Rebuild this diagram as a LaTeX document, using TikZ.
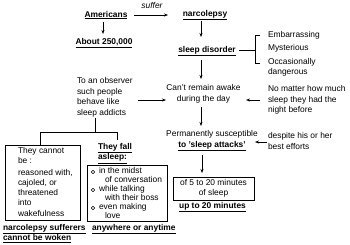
\documentclass[tikz,border=0pt]{standalone}
\usepackage{fontspec}
\setmainfont{Liberation Sans}
\usetikzlibrary{arrows.meta}
\begin{document}
\begin{tikzpicture}[x=1pt,y=-1pt,
  every node/.style={inner sep=0pt,outer sep=0pt,font=\fontsize{8.4}{10.6}\selectfont},
  bu/.style={font=\fontsize{8.4}{10.6}\selectfont\bfseries},
  arr/.style={-{Stealth[length=4pt,width=3pt]},line width=0.6pt},
  ln/.style={line width=0.6pt},
  boxl/.style={draw,line width=0.6pt}]
\useasboundingbox (0,0) rectangle (350,244);
% top row
\node[bu] (americans) at (106,15) {\underline{Americans}};
\node[font=\fontsize{8.4}{10.6}\selectfont\itshape] (suffer) at (152,5) {suffer};
\node[bu] (narco) at (205,15) {\underline{narcolepsy}};
\node[bu] (about) at (104,43) {\underline{About 250,000}};
\coordinate (a1) at (134,15);
\coordinate (a2) at (168,15);
\draw[arr] (a1) -- (a2);
\draw[arr] (americans.south -| 103,0) ++(0,3) -- (103,34);
% sleep disorder
\node[bu] (sleepdis) at (207,51) {\underline{sleep disorder}};
\draw[arr] (201,21) -- (201,37);
\node[anchor=west] (emb) at (268,35) {Embarrassing};
\node[anchor=west] (mys) at (268,48) {Mysterious};
\node[anchor=north west,align=left] (occ) at (268,58) {Occasionally\\dangerous};
\coordinate (b0) at (239,50);
\coordinate (b1) at (255,50);
\draw[ln] (b0) -- (b1);
\draw[ln] (260,35) -- (255,35) -- (255,63) -- (260,63);
% can't remain
\draw[arr] (201,60) -- (201,79);
\node[align=center] (cant) at (203.5,94) {Can't remain awake\\during the day};
\node[anchor=west,align=left] (obs) at (77,97.5) {To an observer\\such people\\behave like\\sleep addicts};
\coordinate (o1) at (138,100);
\coordinate (o2) at (166,100);
\draw[arr] (o1) -- (o2);
\node[anchor=west,align=left] (nomat) at (268,100) {No matter how much\\sleep they had the\\night before};
\coordinate (n1) at (260,100);
\coordinate (n2) at (246,100);
\draw[arr] (n1) -- (n2);
% permanently
\draw[arr] (201,107) -- (201,126);
\node[align=center] (perm) at (212,141) {Permanently susceptible\\\textbf{\underline{to 'sleep attacks'}}};
\node[anchor=west,align=left] (desp) at (268,141) {despite his or her\\best efforts};
\coordinate (d1) at (267,142);
\coordinate (d2) at (255,142);
\draw[arr] (d1) -- (d2);
\draw[arr] (202,155) -- (202,173);
\node[boxl,minimum width=81pt,minimum height=23pt,align=center] (box5) at (213.5,188.5) {of 5 to 20 minutes\\of sleep};
\node[bu] (upto) at (212.5,207) {\underline{up to 20 minutes}};
% tree
\draw[ln] (95,118) -- (95,132);
\draw[ln] (40,145) -- (40,132) -- (117,132) -- (117,140);
% left box
\draw[ln] (5,145) rectangle (80,220);
\node[anchor=north west,align=left] (cannot) at (18,147) {They cannot\\be :};
\node[anchor=north west,align=left,font=\fontsize{8.4}{10.3}\selectfont] (reas) at (18,169) {reasoned with,\\cajoled, or\\threatened\\into\\wakefulness};
% fall asleep
\node[anchor=north west,align=left,bu] (fall) at (98,143) {\underline{They fall}\\\underline{asleep:}};
\draw[ln] (87,165) rectangle (167,221);
\node[anchor=north west,align=left,font=\fontsize{8.4}{9.0}\selectfont] (items) at (99,167) {in the midst\\\hspace*{6pt}of conversation\\while talking\\\hspace*{6pt}with their boss\\even making\\\hspace*{6pt}love};
\draw[line width=0.5pt] (93,172) circle (1.8pt);
\draw[line width=0.5pt] (93,190) circle (1.8pt);
\draw[line width=0.5pt] (93,208) circle (1.8pt);
% bottom labels
\node[anchor=north west,align=left,bu] (suff) at (3,224) {\underline{narcolepsy sufferers}\\\underline{cannot be woken}};
\node[anchor=north west,bu] (anyw) at (92,224) {\underline{anywhere or anytime}};
\end{tikzpicture}
\end{document}
